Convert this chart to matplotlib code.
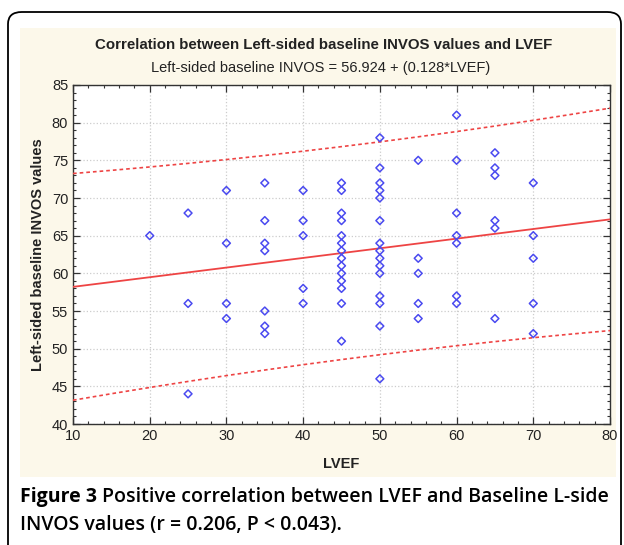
import numpy as np
import matplotlib
matplotlib.use("Agg")
import matplotlib.pyplot as plt
from matplotlib.patches import FancyBboxPatch, Rectangle
from matplotlib.ticker import MultipleLocator

# ---- data ----
lvef_groups = [20, 25, 30, 35, 40, 45, 50, 55, 60, 65, 70]
invos_groups = [
    [65],
    [68, 56, 44],
    [71, 64, 56, 54],
    [72, 67, 64, 63, 55, 53, 52],
    [71, 67, 65, 58, 56],
    [72, 71, 68, 67, 65, 64, 63, 62, 61, 60, 59, 58, 56, 51],
    [78, 74, 72, 71, 70, 67, 64, 63, 62, 61, 60, 57, 56, 53, 46],
    [75, 62, 60, 56, 54],
    [81, 75, 68, 65, 64, 57, 56],
    [76, 74, 73, 67, 66, 54],
    [72, 65, 62, 56, 52],
]
intercept = 56.924
slope = 0.128
pred_se = 7.05      # residual SE used for the 95% prediction band
tval = 1.99
x_ticks = [10, 20, 30, 40, 50, 60, 70, 80]
y_ticks = [40, 45, 50, 55, 60, 65, 70, 75, 80, 85]

title = "Correlation between Left-sided baseline INVOS values and LVEF"
subtitle = "Left-sided baseline INVOS = 56.924 + (0.128*LVEF)"
xlabel = "LVEF"
ylabel = "Left-sided baseline INVOS values"
cap_bold = "Figure 3"
cap_line1 = "Positive correlation between LVEF and Baseline L-side"
cap_line2 = "INVOS values (r = 0.206, P < 0.043)."

x = np.concatenate([[g] * len(v) for g, v in zip(lvef_groups, invos_groups)]).astype(float)
y = np.concatenate(invos_groups).astype(float)

n = len(x)
xbar = x.mean()
sxx = np.sum((x - xbar) ** 2)
xx = np.linspace(10, 80, 200)
yy = intercept + slope * xx
half = tval * pred_se * np.sqrt(1 + 1 / n + (xx - xbar) ** 2 / sxx)

W, H = 624, 545
fig = plt.figure(figsize=(W / 100, H / 100), dpi=100)
fig.patch.set_facecolor("white")

frame = FancyBboxPatch((8 / W, -0.05), (621 - 8) / W, (H - 12) / H + 0.05,
                       boxstyle="round,pad=0,rounding_size=0.022",
                       transform=fig.transFigure, facecolor="white",
                       edgecolor="black", linewidth=1.3, zorder=0)
fig.patches.append(frame)
panel = Rectangle((20 / W, 1 - 477 / H), (616 - 20) / W, (477 - 28) / H,
                  transform=fig.transFigure, facecolor="#fcf8ea",
                  edgecolor="none", zorder=1)
fig.patches.append(panel)

narrow = ["Liberation Sans Narrow", "Liberation Sans", "DejaVu Sans"]
arial = ["Liberation Sans", "DejaVu Sans"]

ax = fig.add_axes([73 / W, 1 - 424 / H, (610 - 73) / W, (424 - 85) / H])
ax.set_facecolor("white")
ax.set_zorder(2)

ax.scatter(x, y, marker="D", s=16, facecolors="none", edgecolors="#4a4af0",
           linewidths=1.1, zorder=4)
ax.plot(xx, yy, color="#ee4444", lw=1.3, zorder=3)
ax.plot(xx, yy + half, color="#ee4444", lw=1.2, ls=(0, (2.2, 1.8)), zorder=3)
ax.plot(xx, yy - half, color="#ee4444", lw=1.2, ls=(0, (2.2, 1.8)), zorder=3)

ax.set_xlim(10, 80)
ax.set_ylim(40, 85)
ax.set_xticks(x_ticks)
ax.set_yticks(y_ticks)
ax.xaxis.set_minor_locator(MultipleLocator(2))
ax.yaxis.set_minor_locator(MultipleLocator(1))
ax.tick_params(which="both", direction="in", top=True, right=True,
               color="#333333")
ax.tick_params(which="major", length=5, width=0.9, labelsize=10.5)
ax.tick_params(which="minor", length=2.5, width=0.8)
ax.grid(True, which="major", color="#cccccc", ls=":", lw=0.9)
for sp in ax.spines.values():
    sp.set_color("#333333")
    sp.set_linewidth(1.0)
for lab in ax.get_xticklabels() + ax.get_yticklabels():
    lab.set_family(narrow)
    lab.set_color("#222222")

ax.set_xlabel(xlabel, family=arial, fontsize=10.5, fontweight="bold",
              color="#222222", labelpad=10)
ax.set_ylabel(ylabel, family=arial, fontsize=10.5, fontweight="bold",
              color="#222222", labelpad=5)

fig.text(324 / W, 1 - 45 / H, title, family=arial, fontsize=10.8,
         fontweight="bold", ha="center", va="center", color="#222222", zorder=3)
fig.text(321 / W, 1 - 68 / H, subtitle, family=arial, fontsize=10.5,
         ha="center", va="center", color="#222222", zorder=3)

cap_font = ["Open Sans", "DejaVu Sans"]
cap_size = 13.8
t_bold = fig.text(20 / W, 1 - 497 / H, cap_bold, family=cap_font, fontsize=cap_size,
                  fontweight="bold", ha="left", va="center", color="black", zorder=3)
t1 = fig.text(0.5, 1 - 497 / H, cap_line1, family=cap_font, fontsize=cap_size,
              fontweight="semibold", ha="left", va="center", color="black", zorder=3)
t2 = fig.text(20 / W, 1 - 525 / H, cap_line2, family=cap_font, fontsize=cap_size,
              fontweight="semibold", ha="left", va="center", color="black", zorder=3)
target_right = 608
for _ in range(4):
    fig.canvas.draw()
    r = fig.canvas.get_renderer()
    bb = t_bold.get_window_extent(renderer=r)
    t1.set_x((bb.x1 + 5) / W)
    fig.canvas.draw()
    bb1 = t1.get_window_extent(renderer=r)
    scale = (target_right - 20) / (bb1.x1 - 20)
    cap_size *= scale
    for t in (t_bold, t1, t2):
        t.set_fontsize(cap_size)
fig.canvas.draw()
bb = t_bold.get_window_extent(renderer=fig.canvas.get_renderer())
t1.set_x((bb.x1 + 5) / W)

fig.savefig("out.png", dpi=100)
